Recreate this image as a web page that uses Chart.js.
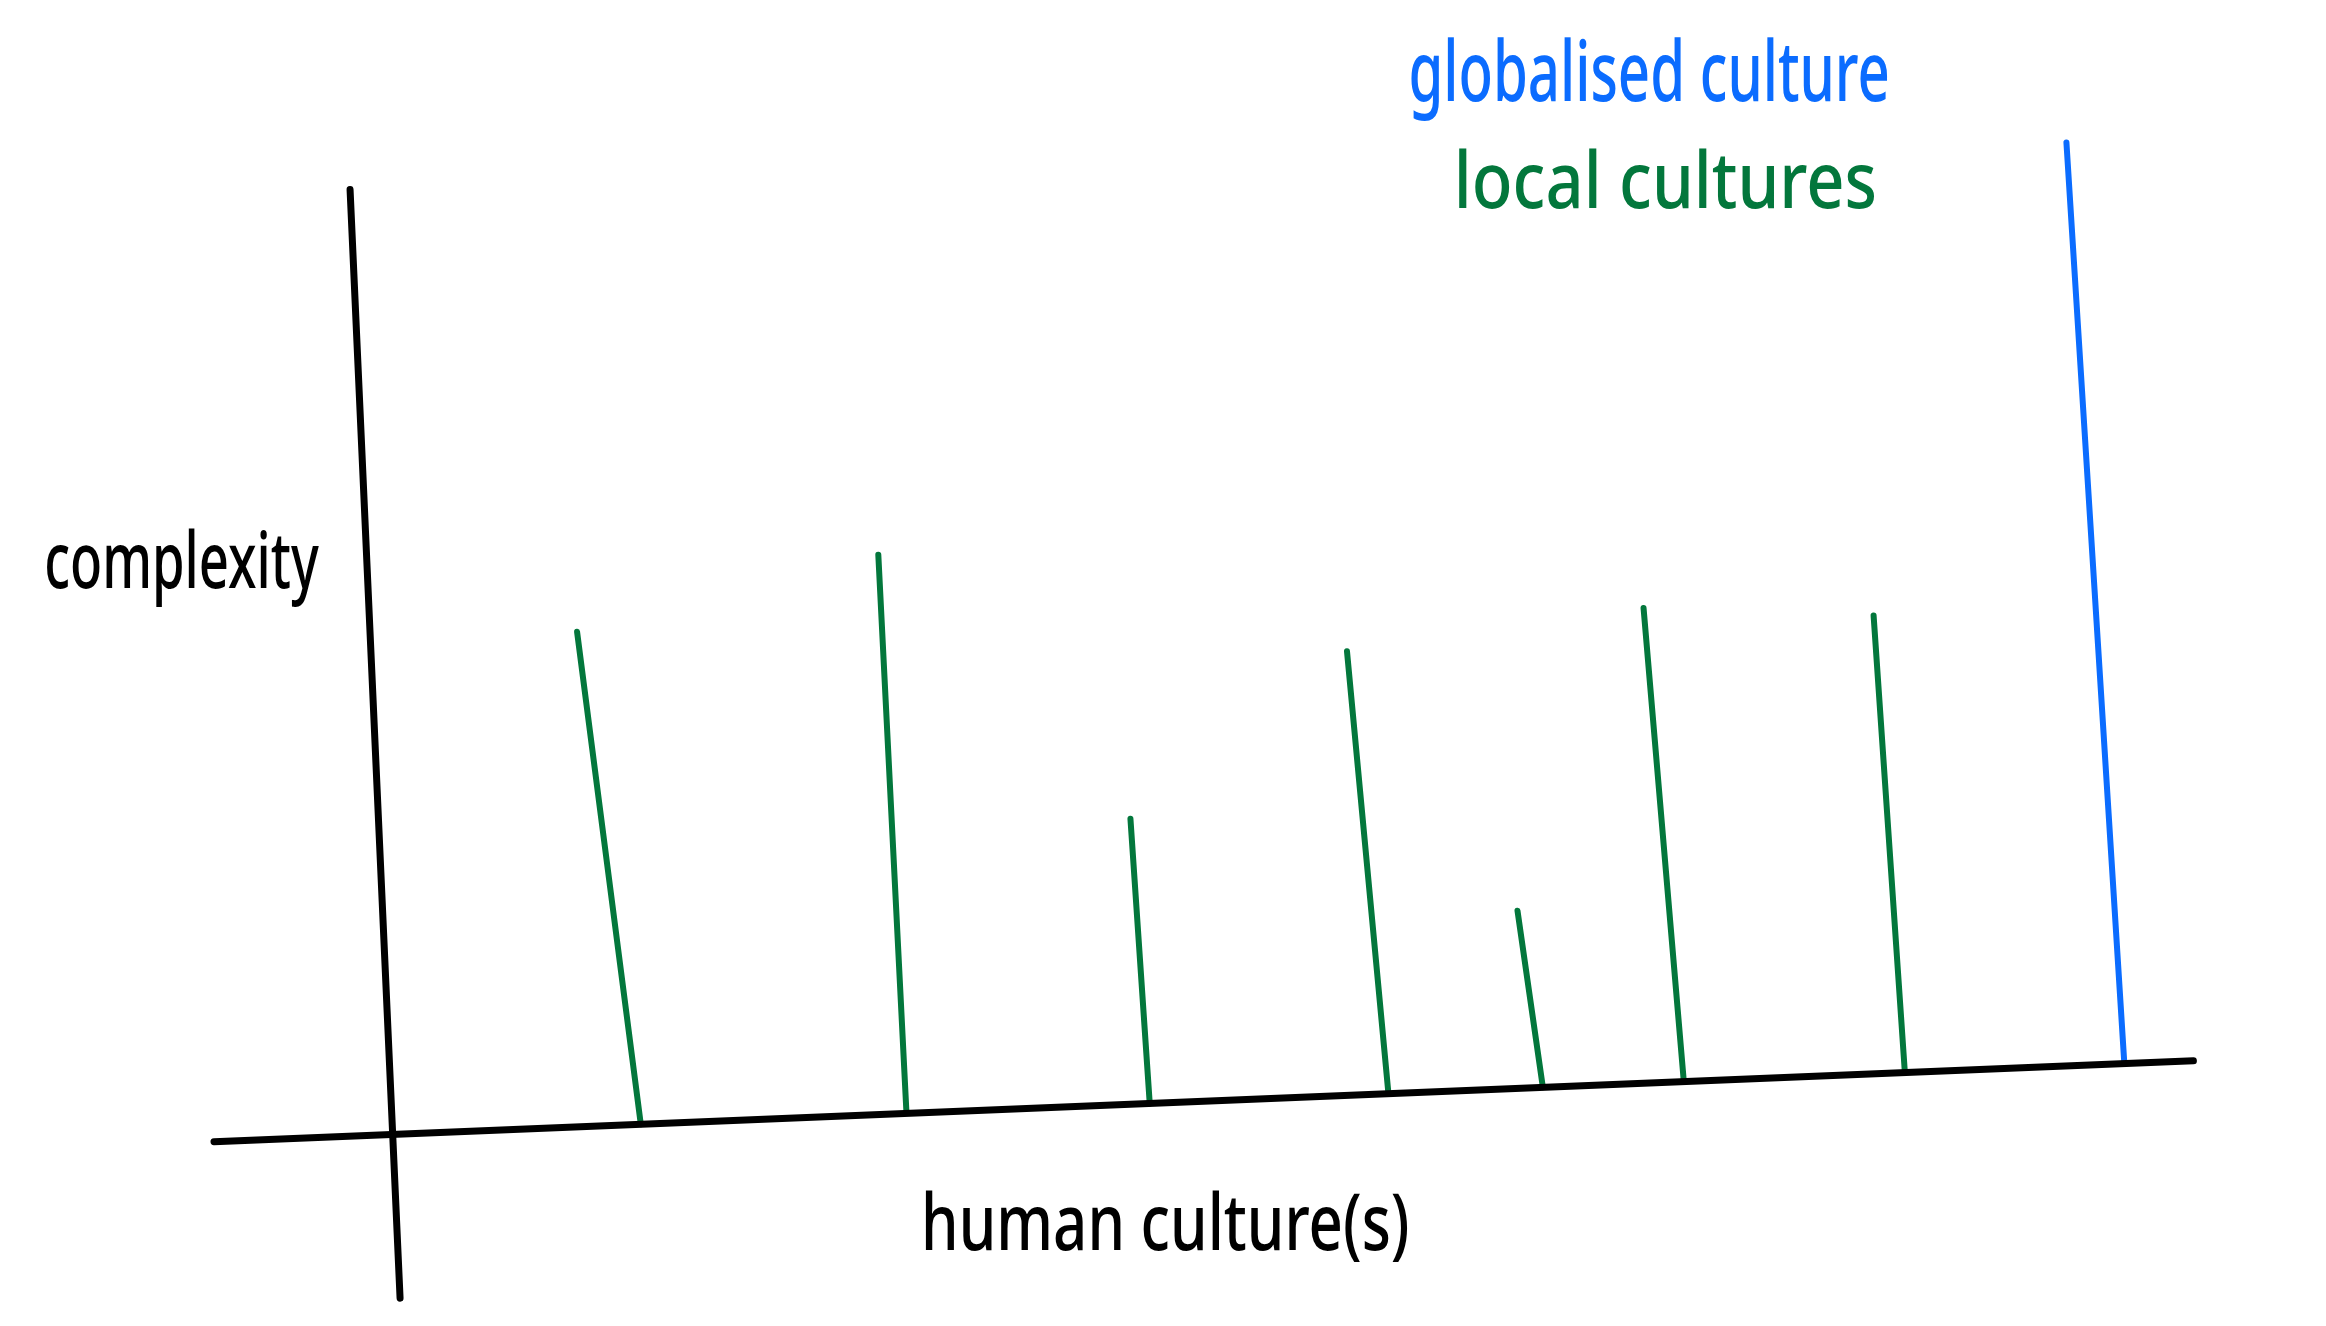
<!DOCTYPE html>
<html lang="en">
<head>
    <meta charset="UTF-8">
    <title>Human culture(s) vs complexity</title>
    <script src="https://cdn.jsdelivr.net/npm/chart.js"></script>
    <style>
        body, html {
            margin: 0;
            padding: 0;
            background-color: #ffffff;
            overflow: hidden;
        }
        .chart-box {
            width: 2326px;
            height: 1326px;
        }
    </style>
</head>
<body>
    <div class="chart-box">
        <canvas id="sketchChart"></canvas>
    </div>
    <script>
        // sketch units: 0..100 across, 0..100 up
        const axisXLine = [{ x: 9.2, y: 13.9 }, { x: 94.3, y: 20.0 }];
        const axisYLine = [{ x: 15.05, y: 85.7 }, { x: 17.2, y: 2.1 }];

        // local cultures (green stems) then the globalised one (blue)
        const stemBaseX = [27.55, 38.97, 49.43, 59.69, 66.33, 72.39, 81.89, 91.33];
        const stemBaseY = [15.21, 16.11, 16.78, 17.56, 18.01, 18.46, 19.24, 19.80];
        const stemTopX = [24.81, 37.76, 48.60, 57.91, 65.24, 70.66, 80.55, 88.84];
        const stemTopY = [52.35, 58.17, 38.26, 50.89, 31.32, 54.14, 53.58, 89.26];
        const stemKind = ['local', 'local', 'local', 'local', 'local', 'local', 'local', 'global'];

        const labelText = ['complexity', 'human culture(s)', 'globalised culture', 'local cultures'];
        const labelX = [7.8, 50.1, 70.9, 71.6];
        const labelY = [57.3, 7.4, 94.2, 86.0];
        const labelWidth = [11.8, 21.0, 20.7, 18.2];
        const labelSize = [78, 78, 84, 78];

        const GREEN = '#03773c';
        const BLUE = '#0b6cff';
        const labelColor = ['#000000', '#000000', BLUE, GREEN];

        const lineDefaults = {
            showLine: true,
            pointRadius: 0,
            borderWidth: 6,
            borderCapStyle: 'round',
            fill: false
        };

        const datasets = [
            { ...lineDefaults, label: 'x axis', data: axisXLine, borderColor: '#000000', borderWidth: 7 },
            { ...lineDefaults, label: 'y axis', data: axisYLine, borderColor: '#000000', borderWidth: 7 }
        ];
        stemBaseX.forEach((bx, i) => {
            datasets.push({
                ...lineDefaults,
                label: stemKind[i] === 'global' ? 'globalised culture' : 'local culture ' + (i + 1),
                data: [{ x: bx, y: stemBaseY[i] }, { x: stemTopX[i], y: stemTopY[i] }],
                borderColor: stemKind[i] === 'global' ? BLUE : GREEN,
                borderWidth: 6
            });
        });

        const handLabels = {
            id: 'handLabels',
            afterDatasetsDraw(chart) {
                const { ctx, scales } = chart;
                ctx.save();
                ctx.textAlign = 'center';
                ctx.textBaseline = 'middle';
                labelText.forEach((t, i) => {
                    const px = scales.x.getPixelForValue(labelX[i]);
                    const py = scales.y.getPixelForValue(labelY[i]);
                    const w = scales.x.getPixelForValue(labelWidth[i]) - scales.x.getPixelForValue(0);
                    ctx.font = '500 ' + labelSize[i] + 'px "Noto Sans"';
                    ctx.fillStyle = labelColor[i];
                    ctx.fillText(t, px, py, w);
                });
                ctx.restore();
            }
        };

        new Chart(document.getElementById('sketchChart'), {
            type: 'scatter',
            data: { datasets },
            options: {
                responsive: true,
                maintainAspectRatio: false,
                animation: false,
                layout: { padding: 0 },
                plugins: { legend: { display: false }, tooltip: { enabled: false } },
                scales: {
                    x: { type: 'linear', min: 0, max: 100, display: false },
                    y: { type: 'linear', min: 0, max: 100, display: false }
                }
            },
            plugins: [handLabels]
        });
    </script>
</body>
</html>
